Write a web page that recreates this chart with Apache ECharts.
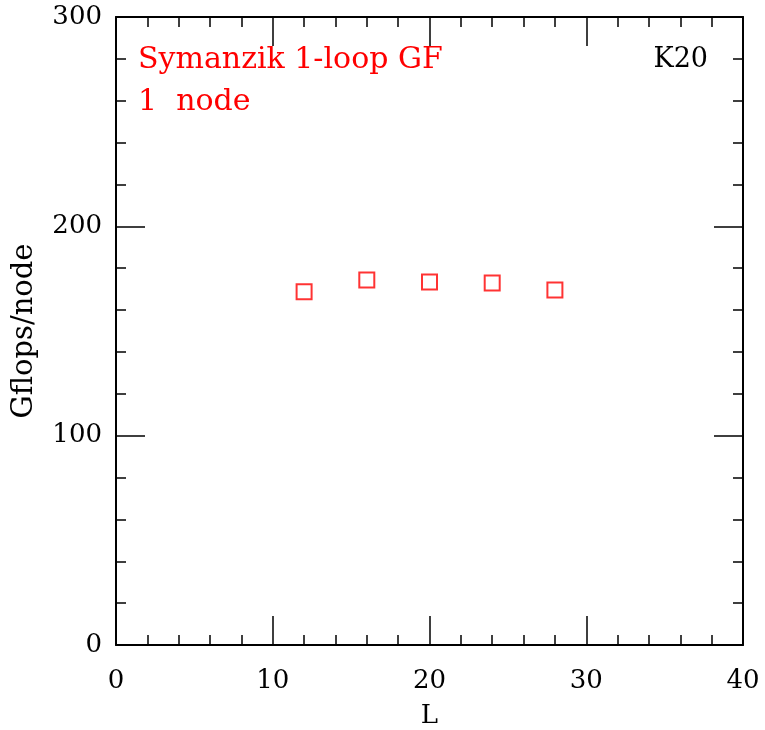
<!DOCTYPE html>
<html>
<head>
<meta charset="utf-8">
<script src="https://cdn.jsdelivr.net/npm/echarts@6/dist/echarts.min.js"></script>
<style>html,body{margin:0;padding:0;background:#fff}#c{width:765px;height:730px}</style>
</head>
<body>
<div id="c"></div>
<script>
var latticeL = [12, 16, 20, 24, 28];
var gflopsPerNode = [168.8, 174.4, 173.4, 172.9, 169.6];
var xTicks = [0, 10, 20, 30, 40];
var yTicks = [0, 100, 200, 300];
var xName = 'L';
var yName = 'Gflops/node';
var noteLines = ['Symanzik 1-loop GF', '1  node'];
var cornerLabel = 'K20';

var FONT = 'DejaVu Serif';
var chart = echarts.init(document.getElementById('c'), null, {renderer: 'canvas'});

function axisBase(show, margin) {
  return {
    axisLine: {show: true, onZero: false, lineStyle: {color: '#000', width: 2}},
    axisTick: {show: true, inside: true, length: 29, lineStyle: {color: '#000', width: 1.5}},
    minorTick: {show: true, splitNumber: 5, length: 10, lineStyle: {color: '#000', width: 1.5}},
    splitLine: {show: false},
    minorSplitLine: {show: false},
    axisLabel: {show: show, color: '#000', fontFamily: FONT, fontSize: 26, margin: margin || 14}
  };
}

var xMain = Object.assign(axisBase(true, 23), {
  type: 'value', min: xTicks[0], max: xTicks[xTicks.length - 1], interval: 10,
  position: 'bottom',
  name: xName, nameLocation: 'middle', nameGap: 58,
  nameTextStyle: {color: '#000', fontFamily: FONT, fontSize: 26}
});
var xTop = Object.assign(axisBase(false), {
  type: 'value', min: xTicks[0], max: xTicks[xTicks.length - 1], interval: 10, position: 'top'
});
var yMain = Object.assign(axisBase(true, 14), {
  type: 'value', min: yTicks[0], max: yTicks[yTicks.length - 1], interval: 100,
  position: 'left',
  name: yName, nameLocation: 'middle', nameGap: 77, nameRotate: 90,
  nameTextStyle: {color: '#000', fontFamily: FONT, fontSize: 29}
});
var yRight = Object.assign(axisBase(false), {
  type: 'value', min: yTicks[0], max: yTicks[yTicks.length - 1], interval: 100, position: 'right'
});

chart.setOption({
  animation: false,
  backgroundColor: '#fff',
  grid: {left: 116, right: 22, top: 17, bottom: 85, containLabel: false, outerBoundsMode: 'none'},
  xAxis: [xMain, xTop],
  yAxis: [yMain, yRight],
  graphic: [
    {type: 'text', left: 138, top: 45, style: {text: noteLines[0], fill: '#ff0000', font: '30px "' + FONT + '"'}},
    {type: 'text', left: 138, top: 87, style: {text: noteLines[1], fill: '#ff0000', font: '30px "' + FONT + '"'}},
    {type: 'text', right: 57, top: 46, style: {text: cornerLabel, fill: '#000', font: '27px "' + FONT + '"'}}
  ],
  series: [{
    type: 'scatter',
    xAxisIndex: 0, yAxisIndex: 0,
    data: latticeL.map(function (x, i) { return [x, gflopsPerNode[i]]; }),
    symbol: 'rect',
    symbolSize: 15,
    itemStyle: {color: 'rgba(0,0,0,0)', borderColor: '#ff0000', borderWidth: 2},
    silent: true
  }]
});
</script>
</body>
</html>
